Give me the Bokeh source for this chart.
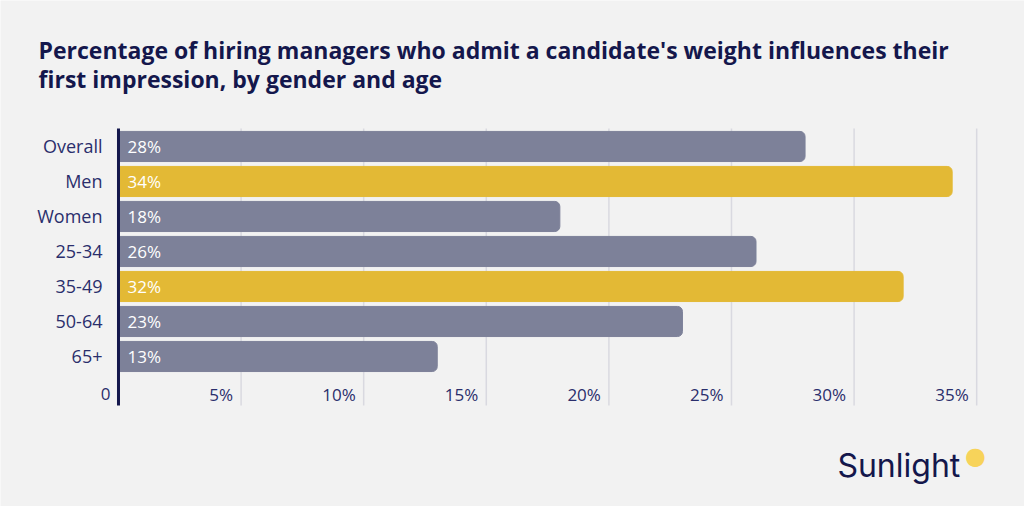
from bokeh.plotting import figure
from bokeh.models import Range1d, ColumnDataSource, Label
from bokeh.core.properties import value
from bokeh.embed import file_html
from bokeh.resources import INLINE

categories = ["Overall", "Men", "Women", "25-34", "35-49", "50-64", "65+"]
percentages = [28, 34, 18, 26, 32, 23, 13]
highlight = [False, True, False, False, True, False, False]
x_ticks = [0, 5, 10, 15, 20, 25, 30, 35]
x_tick_labels = ["0", "5%", "10%", "15%", "20%", "25%", "30%", "35%"]
title_lines = ["Percentage of hiring managers who admit a candidate's weight influences their",
               "first impression, by gender and age"]
brand = "Sunlight"

BG = "#f2f2f2"
NAVY = "#14174c"
LABEL_NAVY = "#2a2e6c"
GRAY = "#7d8199"
YELLOW = "#e3b935"
GRID = "#d9d9e0"
FONT = "Open Sans"

# plot area (in data units): rows 0..6 top to bottom, x in percent
Y_TOP, Y_BOTTOM = -0.514, 7.4
TICK_Y = 7.086

rows = list(range(len(categories)))
colors = [YELLOW if h else GRAY for h in highlight]
src = ColumnDataSource(dict(y=rows, v=percentages, color=colors, cat=categories,
                            label=[f"{v}%" for v in percentages],
                            zero=[0] * len(rows)))

p = figure(width=1024, height=506, output_backend="svg", toolbar_location=None,
           x_range=Range1d(-4.812, 36.95), y_range=Range1d(10.286, -4.171),
           min_border=0)
p.background_fill_color = BG
p.border_fill_color = BG
p.outline_line_color = None
p.xaxis.visible = False
p.yaxis.visible = False
p.grid.visible = False

# vertical gridlines
grid_x = [t for t in x_ticks if t > 0]
p.segment(x0=grid_x, x1=grid_x, y0=[Y_TOP] * len(grid_x), y1=[Y_BOTTOM] * len(grid_x),
          line_color=GRID, line_width=1.5)

p.hbar(y="y", right="v", left=0, height=0.86, color="color", source=src,
       border_radius=(0, 5, 5, 0))

# axis line
p.segment(x0=[0], x1=[0], y0=[Y_TOP], y1=[Y_BOTTOM], line_color=NAVY, line_width=3)

# value labels inside bars
p.text(x="zero", y="y", text="label", source=src, x_offset=9,
       text_align="left", text_baseline="middle", text_color="white",
       text_font=value(FONT), text_font_size="17px")

# category labels
p.text(x="zero", y="y", text="cat", source=src, x_offset=-16,
       text_align="right", text_baseline="middle", text_color=LABEL_NAVY,
       text_font=value(FONT), text_font_size="18px")

# x tick labels, left of each gridline
tick_src = ColumnDataSource(dict(x=x_ticks, y=[TICK_Y] * len(x_ticks), t=x_tick_labels))
p.text(x="x", y="y", text="t", source=tick_src, x_offset=-8,
       text_align="right", text_baseline="middle", text_color=LABEL_NAVY,
       text_font=value(FONT), text_font_size="17px")

# Title (two lines)
for i, line in enumerate(title_lines):
    p.add_layout(Label(x=-3.26, y=-2.771 + i * 0.857, text=line,
                       text_font=FONT, text_font_size="23px", text_font_style="bold",
                       text_color=NAVY, text_align="left", text_baseline="middle"))

# Brand mark
p.add_layout(Label(x=29.32, y=9.114, text=brand, text_font="Inter",
                   text_font_size="32px", text_color=NAVY,
                   text_align="left", text_baseline="middle"))
p.add_layout(Label(x=34.95, y=8.857, text="\u25cf", text_font="DejaVu Sans",
                   text_font_size="24px", text_color="#f7d35a",
                   text_align="center", text_baseline="middle"))

open("out.html", "w").write(file_html(p, INLINE))
